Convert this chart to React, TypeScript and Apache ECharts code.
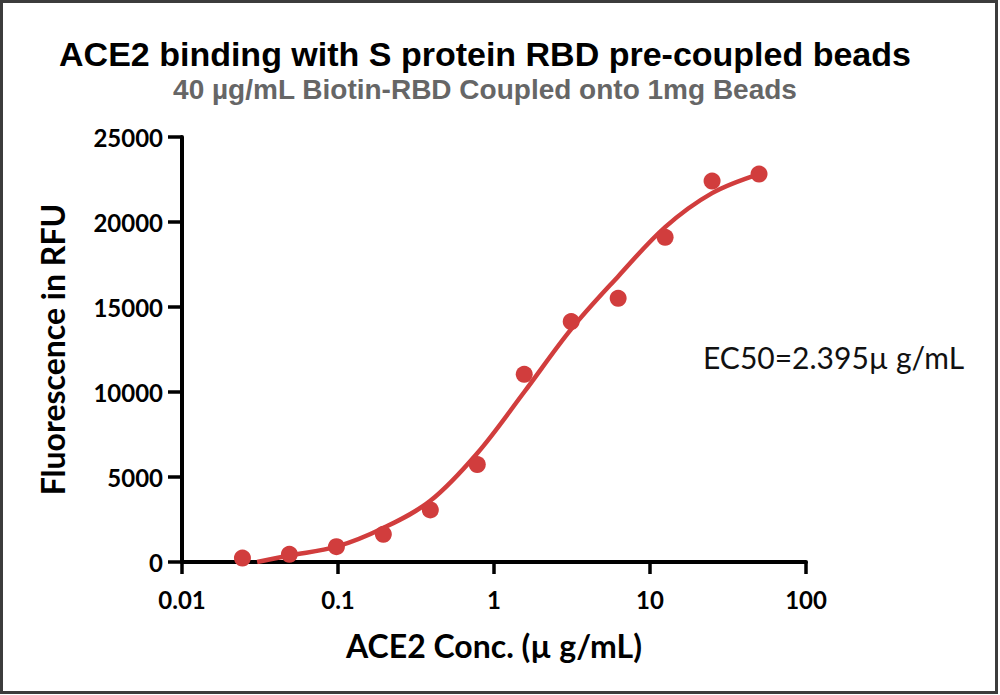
import React, { useEffect, useRef } from "react";
import * as echarts from "echarts";

const concentrations = [0.0244, 0.0488, 0.0977, 0.1953, 0.3906, 0.7813, 1.5625, 3.125, 6.25, 12.5, 25, 50];
const fluorescence = [230, 450, 900, 1630, 3060, 5730, 11040, 14140, 15510, 19100, 22410, 22820];
const fitX = [0.0303, 0.0488, 0.0977, 0.1953, 0.3906, 0.7813, 1.5625, 3.125, 6.25, 12.5, 25, 50];
const fitY = [0, 380, 900, 2000, 3600, 6400, 10000, 13700, 16800, 19700, 21700, 22820];
const xTickLabels = ["0.01", "0.1", "1", "10", "100"];
const yTicks = [0, 5000, 10000, 15000, 20000, 25000];

const RED = "#D13D3D";
const FONT = "Lato";

export default function App() {
  const ref = useRef<HTMLDivElement>(null);
  useEffect(() => {
    if (!ref.current) return;
    const chart = echarts.init(ref.current, null, { renderer: "svg" });
    chart.setOption({
      animation: false,
      backgroundColor: "#ffffff",
      title: {
        text: "ACE2 binding with S protein RBD pre-coupled beads",
        subtext: "40 µg/mL Biotin-RBD Coupled onto 1mg Beads",
        left: 480,
        textAlign: "center",
        top: 32,
        itemGap: 4,
        textStyle: { fontFamily: "Liberation Sans", fontWeight: "bold", fontSize: 34, color: "#000" },
        subtextStyle: { fontFamily: "Liberation Sans", fontWeight: "bold", fontSize: 28, color: "#666" },
      },
      grid: { left: 182, right: 194, top: 137, bottom: 133 },
      xAxis: {
        type: "log",
        logBase: 10,
        min: 0.01,
        max: 100,
        name: "ACE2 Conc. (µ g/mL)",
        nameLocation: "middle",
        nameGap: 67,
        nameTextStyle: { fontFamily: FONT, fontWeight: "bold", fontSize: 32, color: "#000" },
        axisLine: { lineStyle: { color: "#000", width: 4 } },
        axisTick: { length: 12, lineStyle: { color: "#000", width: 3.5 } },
        minorTick: { show: false },
        splitLine: { show: false },
        axisLabel: {
          margin: 25,
          fontFamily: FONT,
          fontWeight: "bold",
          fontSize: 24,
          color: "#000",
          formatter: (v: number) => xTickLabels[Math.round(Math.log10(v)) + 2] ?? "",
        },
      },
      yAxis: {
        type: "value",
        min: yTicks[0],
        max: yTicks[yTicks.length - 1],
        interval: 5000,
        name: "Fluorescence in RFU",
        nameLocation: "middle",
        nameGap: 114,
        nameTextStyle: { fontFamily: FONT, fontWeight: "bold", fontSize: 32, color: "#000" },
        axisLine: { show: true, lineStyle: { color: "#000", width: 4 } },
        axisTick: { show: true, length: 14, lineStyle: { color: "#000", width: 3.5 } },
        splitLine: { show: false },
        axisLabel: {
          margin: 19,
          fontFamily: FONT,
          fontWeight: "bold",
          fontSize: 24,
          color: "#000",
          formatter: (v: number) => String(v),
        },
      },
      graphic: [
        {
          type: "rect",
          shape: { x: 1.5, y: 1.5, width: 995, height: 691 },
          style: { fill: "none", stroke: "#3c3c3c", lineWidth: 3 },
          silent: true,
        },
        {
          type: "text",
          x: 703,
          y: 357,
          style: {
            text: "EC50=2.395µ g/mL",
            fontFamily: FONT,
            fontSize: 30,
            fill: "#111",
            textVerticalAlign: "middle",
          },
        },
      ],
      series: [
        {
          type: "line",
          data: fitX.map((x, i) => [x, fitY[i]]),
          smooth: 0.35,
          showSymbol: false,
          lineStyle: { color: RED, width: 4.5 },
          z: 2,
        },
        {
          type: "scatter",
          data: concentrations.map((x, i) => [x, fluorescence[i]]),
          symbol: "circle",
          symbolSize: 17,
          itemStyle: { color: RED, opacity: 1 },
          z: 3,
        },
      ],
    });
    return () => chart.dispose();
  }, []);
  return (
    <div style={{ position: "absolute", left: 0, top: 0, width: 1000, height: 695 }}>
      <div ref={ref} style={{ width: 1000, height: 695 }} />
    </div>
  );
}
